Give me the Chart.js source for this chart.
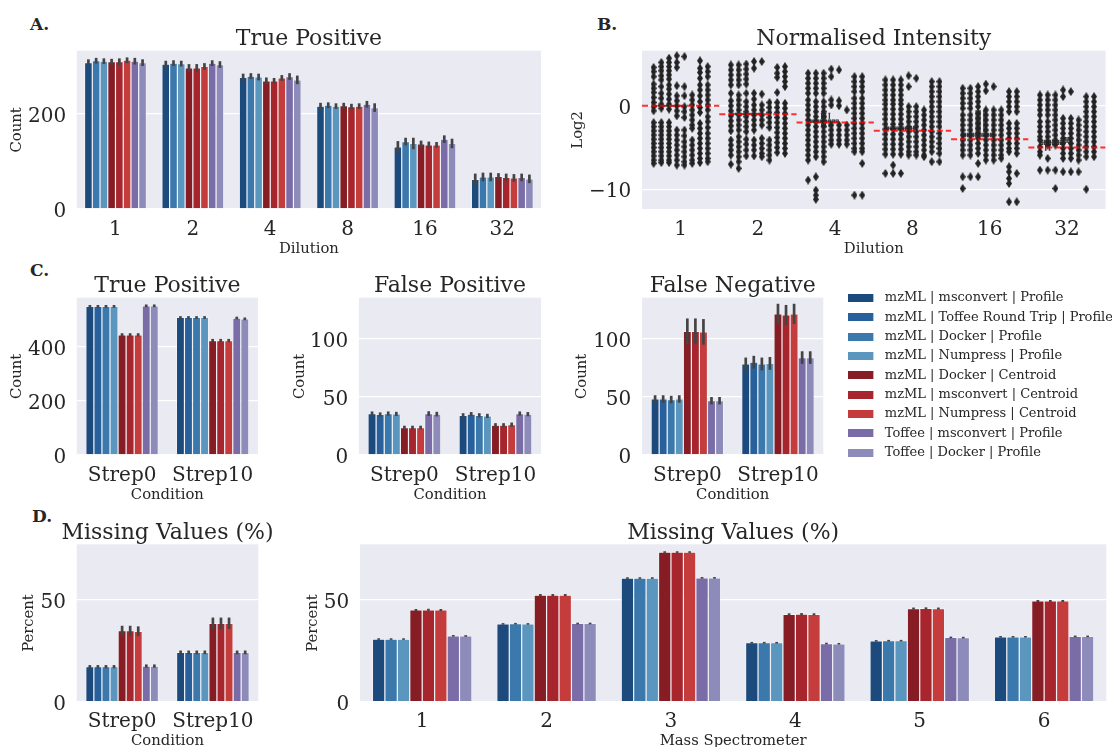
<!DOCTYPE html>
<html><head><meta charset="utf-8">
<script src="https://cdn.jsdelivr.net/npm/chart.js@4.4.1/dist/chart.umd.min.js"></script>
<style>
html,body{margin:0;padding:0;background:#fff;overflow:hidden;width:1112px;height:747px;position:relative;}
canvas{position:absolute;}
.lbl{position:absolute;font:bold 17px 'DejaVu Serif',serif;line-height:16px;color:#262626;white-space:nowrap;}
</style></head><body>
<div class="lbl" style="left:30px;top:16px">A.</div>
<div class="lbl" style="left:597px;top:16px">B.</div>
<div class="lbl" style="left:30px;top:262px">C.</div>
<div class="lbl" style="left:32px;top:508px">D.</div>
<canvas id="cA"></canvas><canvas id="cB"></canvas>
<canvas id="cTP"></canvas><canvas id="cFP"></canvas><canvas id="cFN"></canvas>
<canvas id="cDL"></canvas><canvas id="cDR"></canvas><canvas id="cLeg"></canvas>
<script>
// ---------------- DATA ----------------
const methods = [
  "mzML | msconvert | Profile", "mzML | Toffee Round Trip | Profile", "mzML | Docker | Profile",
  "mzML | Numpress | Profile", "mzML | Docker | Centroid", "mzML | msconvert | Centroid",
  "mzML | Numpress | Centroid", "Toffee | msconvert | Profile", "Toffee | Docker | Profile"
];
const dilutionMethods = [0, 2, 3, 4, 5, 6, 7, 8];   // methods present in dilution / mass-spec panels
const dilutionLabels = ["1", "2", "4", "8", "16", "32"];
const conditionLabels = ["Strep0", "Strep10"];
const massSpecLabels = ["1", "2", "3", "4", "5", "6"];

// y tick values per panel
const ticksTPDilution = [0, 200];
const ticksLog2 = [-10, 0];
const ticksTPCondition = [0, 200, 400];
const ticksFPFN = [0, 50, 100];
const ticksPercent = [0, 50];

// A. True positive by dilution (rows follow dilutionMethods)
const tpDilution = [
  [306, 303, 275, 215, 130, 62],
  [310, 305, 278, 217, 141, 67],
  [309, 304, 276, 215, 137, 67],
  [308, 295, 268, 216, 136, 68],
  [308, 295, 268, 214, 134, 66],
  [311, 298, 274, 215, 134, 65],
  [309, 305, 277, 219, 146, 66],
  [306, 302, 270, 212, 137, 63]
];
const tpDilutionErr = [
  [7, 7, 8, 7, 12, 12],
  [6, 6, 6, 6, 8, 9],
  [6, 6, 7, 6, 12, 9],
  [6, 8, 7, 6, 7, 7],
  [7, 8, 6, 6, 7, 8],
  [6, 7, 6, 6, 6, 8],
  [7, 6, 7, 7, 8, 8],
  [7, 7, 9, 9, 10, 9]
];

// B. Normalised intensity (log2) box plots by dilution (rows follow dilutionMethods)
const expectedLog2 = [0, -1, -2, -3, -4, -5];
const boxQ1 = [
  [-0.1, -1.15, -2.1, -2.95, -3.8, -4.7], [-0.1, -1.15, -2.1, -2.95, -3.8, -4.7],
  [-0.1, -1.15, -2.1, -2.95, -3.8, -4.7], [-0.1, -1.15, -2.1, -2.95, -3.8, -4.7],
  [-0.1, -1.15, -2.1, -2.95, -3.8, -4.7], [-0.1, -1.15, -2.1, -2.95, -3.8, -4.7],
  [-0.1, -1.15, -2.1, -2.95, -3.8, -4.45], [-0.1, -1.15, -2.1, -2.95, -3.8, -4.45]
];
const boxQ3 = [
  [0.1, -0.8, -1.6, -2.45, -3.2, -4.05], [0.1, -0.8, -1.6, -2.45, -3.2, -4.05],
  [0.1, -0.8, -1.6, -2.45, -3.2, -4.05], [0.1, -0.8, -1.6, -2.45, -3.2, -4.05],
  [0.1, -0.8, -1.6, -2.45, -3.2, -4.05], [0.1, -0.8, -1.6, -2.45, -3.2, -4.05],
  [0.1, -0.8, -1.6, -2.45, -3.2, -3.75], [0.1, -0.8, -1.6, -2.45, -3.2, -3.75]
];
const boxMedian = [
  [0, -1.0, -1.85, -2.7, -3.5, -4.4], [0, -1.0, -1.85, -2.7, -3.5, -4.4],
  [0, -1.0, -1.85, -2.7, -3.5, -4.4], [0, -1.0, -1.85, -2.7, -3.5, -4.4],
  [0, -1.0, -1.85, -2.7, -3.5, -4.4], [0, -1.0, -1.85, -2.7, -3.5, -4.4],
  [0, -1.0, -1.85, -2.7, -3.5, -4.1], [0, -1.0, -1.85, -2.7, -3.5, -4.1]
];
const whiskerLow = [
  [-0.1, -1.15, -2.1, -2.95, -3.8, -4.7], [-0.1, -1.15, -2.1, -2.95, -3.8, -5.3],
  [-0.1, -1.15, -2.1, -2.95, -3.8, -5.3], [-0.1, -1.15, -2.5, -2.95, -3.8, -4.7],
  [-0.1, -1.15, -2.5, -2.95, -3.8, -4.7], [-0.1, -1.15, -2.5, -2.95, -3.8, -4.7],
  [-0.1, -1.15, -2.1, -2.95, -3.8, -4.45], [-0.1, -1.15, -2.1, -2.95, -3.8, -4.45]
];
const whiskerHigh = [
  [0.1, -0.8, -1.6, -2.45, -3.2, -4.05], [0.1, -0.8, -1.6, -2.45, -3.2, -4.05],
  [0.1, -0.8, -1.6, -2.45, -3.2, -4.05], [0.1, -0.8, -0.9, -2.45, -0.6, -4.05],
  [0.1, -0.8, -0.9, -2.45, -0.6, -4.05], [0.1, -0.8, -0.9, -2.45, -0.6, -4.05],
  [0.1, -0.8, -1.6, -2.45, -3.2, -3.75], [0.1, -0.8, -1.6, -2.45, -3.2, -3.75]
];
// outlier points (log2) for each dilution, one list per method
const flierD1 = [
  [4.6, 4.1, 3.5, 2.6, 2.1, 1.6, 1.0, 0.4, -0.1, -0.6, -2.0, -2.5, -3.0, -3.5, -4.0, -4.5, -5.0, -5.5, -6.0, -6.5, -6.9],
  [5.2, 4.7, 4.2, 3.6, 3.1, 2.3, 1.5, 0.9, 0.2, -0.3, -2.0, -2.5, -3.0, -3.5, -4.0, -4.5, -5.0, -5.5, -6.0, -6.5, -6.8],
  [5.7, 5.2, 4.7, 4.2, 3.7, 3.2, 2.5, 2.0, 1.4, 0.8, 0.2, -0.4, -2.0, -2.5, -3.0, -3.5, -4.0, -4.5, -5.0, -5.5, -6.0, -6.5, -6.8],
  [6.0, 5.2, 4.6, 2.4, 1.2, 0.6, 0.0, -0.6, -1.2, -2.9, -3.5, -4.1, -4.7, -5.3, -5.9, -6.5, -7.1],
  [5.9, 2.3, 1.2, -0.1, -0.7, -1.4, -2.9, -3.6, -4.3, -4.9, -5.5, -6.1, -6.7, -7.1],
  [1.3, 0.7, 0.1, -0.5, -1.1, -1.7, -2.3, -2.7, -4.1, -4.7, -5.3, -5.9, -6.5, -6.9],
  [5.4, 4.5, 4.0, 3.3, 2.5, 1.9, 1.2, 0.5, -0.2, -0.8, -2.1, -2.7, -3.3, -3.9, -4.5, -5.1, -5.7, -6.3, -6.8],
  [4.7, 4.1, 3.5, 2.5, 1.9, 1.3, 0.7, 0.1, -0.5, -1.3, -1.9, -2.6, -3.3, -3.9, -4.5, -5.1, -5.7, -6.3, -6.7]
];
const flierD2 = [
  [4.9, 4.3, 3.7, 3.1, 2.5, 1.5, 0.6, 0.0, -0.6, -1.2, -1.8, -2.4, -3.0, -4.1, -4.7, -5.3, -5.9, -7.0],
  [4.9, 4.3, 3.7, 3.1, 2.5, 1.3, 0.7, 0.1, -0.5, -1.1, -1.7, -2.3, -2.9, -3.7, -4.3, -4.9, -5.5, -6.1, -6.7, -7.5],
  [5.0, 4.4, 3.8, 3.2, 2.6, 1.5, 0.5, -0.1, -0.7, -1.3, -1.9, -2.5, -3.1, -4.0, -4.6, -5.3, -6.0],
  [5.3, 4.5, 1.5, 0.8, 0.1, -0.5, -1.1, -1.7, -2.3, -2.9, -4.1, -4.7, -5.3, -6.0],
  [5.3, 1.4, 0.1, -0.5, -1.1, -1.7, -2.3, -3.9, -4.5, -5.1, -5.7, -6.1],
  [0.4, -0.2, -0.8, -1.4, -2.0, -2.6, -4.1, -4.7, -5.3, -5.9, -6.5],
  [4.6, 3.9, 3.4, 1.6, 0.4, -0.2, -0.8, -1.4, -2.0, -2.6, -3.2, -3.8, -4.4, -5.0, -5.6],
  [4.7, 4.1, 3.5, 2.9, 2.3, 0.3, -0.3, -0.9, -1.5, -2.1, -2.7, -3.3, -3.9, -4.5, -5.1, -5.7]
];
const flierD4 = [
  [3.9, 3.3, 2.7, 2.1, 1.5, 0.7, 0.1, -0.5, -1.1, -1.7, -2.3, -2.9, -3.5, -4.1, -4.7, -5.3, -5.9, -6.5, -8.9],
  [3.9, 3.3, 2.7, 2.1, 1.5, 0.5, -0.1, -0.7, -1.3, -1.9, -2.5, -3.1, -3.7, -4.3, -4.9, -5.5, -6.1, -8.5, -10.1, -10.7, -11.2],
  [3.9, 3.3, 2.7, 2.1, 1.5, 0.5, -0.1, -0.7, -1.3, -1.9, -2.5, -3.1, -3.7, -4.3, -4.9, -5.5, -6.1, -6.7],
  [4.4, 3.5, 0.7, 0.1, -2.3, -2.9, -3.5, -4.1, -4.6],
  [4.3, 0.6, 0.0, -2.3, -2.9, -3.5, -4.1, -4.6],
  [-0.5, -2.3, -2.9, -3.5, -4.1, -4.6],
  [3.5, 2.9, 2.3, 1.7, 0.9, 0.3, -0.3, -0.9, -1.5, -2.1, -2.7, -3.3, -3.9, -4.5, -5.1, -5.5, -10.7],
  [3.5, 2.9, 2.3, 1.7, 0.9, 0.3, -0.3, -0.9, -1.5, -2.1, -2.7, -3.3, -3.9, -4.5, -5.1, -5.5, -6.9, -10.7]
];
const flierD8 = [
  [3.1, 2.5, 1.9, 1.3, 0.7, 0.2, -0.4, -1.0, -1.6, -2.2, -2.8, -3.4, -4.0, -4.6, -5.2, -5.8, -8.1],
  [3.1, 2.5, 1.9, 1.3, 0.7, 0.2, -0.4, -1.0, -1.6, -2.2, -2.8, -3.4, -4.0, -4.6, -5.2, -5.8, -7.1, -8.1],
  [3.1, 2.5, 1.9, 1.3, 0.7, 0.2, -0.4, -1.0, -1.6, -2.2, -2.8, -3.4, -4.0, -4.6, -5.2, -5.8, -8.1],
  [3.6, 2.3, -0.1, -0.7, -1.3, -1.9, -2.5, -3.1, -3.7, -4.3, -4.9, -5.5, -5.9],
  [3.3, -0.1, -0.7, -1.3, -1.9, -2.5, -3.1, -3.7, -4.3, -4.9, -5.5, -5.9],
  [-0.5, -1.1, -1.7, -2.3, -2.9, -3.5, -4.1, -4.7, -5.3, -5.9, -6.1],
  [2.9, 2.3, 1.7, 1.1, 0.5, -0.1, -0.7, -1.3, -1.9, -2.5, -3.1, -3.7, -4.3, -4.9, -5.5, -6.7],
  [2.9, 2.3, 1.7, 1.1, 0.5, -0.1, -0.7, -1.3, -1.9, -2.5, -3.3, -3.9, -4.5, -5.1, -5.7, -6.7]
];
const flierD16 = [
  [2.1, 1.5, 0.9, 0.3, -0.3, -1.1, -1.7, -2.3, -2.9, -3.5, -4.1, -4.7, -5.3, -5.9, -8.5, -9.9],
  [2.1, 1.5, 0.9, 0.3, -0.3, -1.1, -1.7, -2.3, -2.9, -3.5, -4.1, -4.7, -5.3, -5.9, -8.5],
  [2.3, 1.7, 1.1, 0.5, -0.1, -0.9, -1.5, -2.1, -2.7, -3.3, -3.9, -4.5, -5.1, -5.7, -6.9, -8.5],
  [2.6, 1.8, -0.5, -1.1, -1.7, -2.3, -2.9, -3.5, -4.1, -4.7, -5.3, -5.9, -6.5],
  [2.3, -0.5, -1.1, -1.7, -2.3, -2.9, -3.5, -4.1, -4.7, -5.3, -5.9, -6.5],
  [-0.5, -1.1, -1.7, -2.3, -2.9, -3.5, -4.1, -4.7, -5.3, -5.9, -6.3],
  [1.7, 1.1, 0.5, -0.1, -0.7, -2.1, -2.7, -3.3, -3.9, -4.5, -5.1, -5.5, -7.3, -7.9, -8.7, -9.3, -11.5],
  [1.7, 1.1, 0.5, -0.1, -0.7, -2.1, -2.7, -3.3, -3.9, -4.5, -5.1, -5.7, -8.1, -11.5]
];
const flierD32 = [
  [1.3, 0.7, 0.1, -0.5, -1.1, -1.9, -2.5, -3.1, -3.7, -4.1, -4.9, -5.5, -5.9, -7.7],
  [1.3, 0.7, 0.1, -0.5, -1.1, -1.9, -2.5, -3.1, -3.7, -4.3, -4.7, -6.3, -7.7],
  [1.3, 0.7, 0.1, -0.5, -1.1, -1.7, -2.3, -2.9, -3.5, -4.1, -4.7, -7.7, -9.9],
  [1.9, 1.1, -1.5, -2.1, -2.7, -3.3, -3.9, -4.5, -5.1, -5.7, -6.3, -7.9],
  [1.7, -1.5, -2.1, -2.7, -3.3, -3.9, -4.5, -5.1, -5.7, -6.3, -7.9],
  [-1.7, -2.3, -2.9, -3.5, -4.1, -4.7, -5.3, -5.9, -6.5, -7.9],
  [1.1, 0.5, -0.1, -0.7, -1.3, -1.9, -2.5, -3.1, -3.7, -4.3, -4.9, -5.5, -6.1, -10.0],
  [1.1, 0.5, -0.1, -0.7, -1.3, -1.9, -2.5, -3.1, -3.7, -4.3, -4.9, -5.5, -6.1]
];

// C. Counts by condition (rows follow methods)
const tpCondition = [[548, 507], [548, 507], [548, 507], [548, 507], [443, 422], [443, 422], [443, 422], [550, 505], [550, 502]];
const tpConditionErr = [[5, 5], [5, 5], [5, 5], [5, 5], [6, 6], [6, 6], [6, 6], [5, 5], [5, 5]];
const fpCondition = [[35.5, 34], [34.7, 35], [35.5, 34], [35.2, 33.5], [23.5, 25.5], [23.5, 25.5], [23.5, 26], [35.5, 35.5], [35, 35]];
const fpConditionErr = [[1.8, 1.8], [1.8, 1.8], [1.8, 1.8], [1.8, 1.8], [1.6, 1.8], [1.6, 1.8], [1.6, 1.8], [2, 1.8], [2, 1.8]];
const fnCondition = [[48, 78], [48, 79.5], [47.5, 78], [48, 78.5], [106, 121], [106, 120], [105.5, 121], [46.5, 83.5], [46.5, 83.5]];
const fnConditionErr = [[3.2, 5.5], [3.2, 5.5], [3.2, 5.5], [3.2, 5.5], [11, 8.6], [11, 8.6], [11, 8.6], [3.2, 5.4], [3.2, 5.4]];

// D. Missing values (%)
const mvCondition = [[17.1, 24.1], [17.1, 24.1], [17.1, 24.1], [17.1, 24.1], [34.7, 38.3], [34.7, 38.3], [34.4, 38.3], [17.4, 24.1], [17.4, 24.1]];
const mvConditionErr = [[0.8, 0.9], [0.8, 0.9], [0.8, 0.9], [0.8, 0.9], [2.4, 2.8], [2.4, 2.8], [2.4, 2.8], [0.8, 0.9], [0.8, 0.9]];
const mvMassSpec = [
  [30.6, 38.0, 60.4, 28.8, 29.7, 31.7],
  [30.6, 38.1, 60.4, 28.8, 29.8, 31.7],
  [30.6, 38.0, 60.4, 28.8, 29.8, 31.7],
  [44.8, 52.1, 73.1, 42.7, 45.5, 49.2],
  [44.9, 52.1, 73.1, 42.8, 45.6, 49.2],
  [44.8, 52.1, 73.1, 42.7, 45.5, 49.2],
  [32.2, 38.2, 60.5, 28.4, 31.4, 31.9],
  [32.1, 38.2, 60.5, 28.3, 31.3, 31.9]
];
const mvMassSpecErr = [
  [0.4, 0.4, 0.4, 0.4, 0.4, 0.4], [0.4, 0.4, 0.4, 0.4, 0.4, 0.4], [0.4, 0.4, 0.4, 0.4, 0.4, 0.4],
  [0.5, 0.5, 0.4, 0.5, 0.5, 0.5], [0.5, 0.5, 0.4, 0.5, 0.5, 0.5], [0.5, 0.5, 0.4, 0.5, 0.5, 0.5],
  [0.4, 0.4, 0.4, 0.4, 0.4, 0.4], [0.4, 0.4, 0.4, 0.4, 0.4, 0.4]
];

// ---------------- STYLE ----------------
const methodColors = ["#1d4a7d", "#27609a", "#3b79ac", "#5b96be", "#861d24", "#a7262d", "#c43c3b", "#7a6ca6", "#8c8bba"];
const TITLE_SIZE = 22, TICK_SIZE = 20, LABEL_SIZE = 14.8, LEGEND_SIZE = 13;
const TH = 32;
const XH = 48.8;
const TXT = '#262626';
const FONT = "'DejaVu Serif', serif";
Chart.defaults.font.family = FONT;
Chart.defaults.color = TXT;

const bgPlugin = {
  id: 'bgArea',
  beforeDraw(chart) {
    const a = chart.chartArea, c = chart.ctx;
    c.save(); c.fillStyle = '#EAEAF2';
    c.fillRect(a.left, a.top, a.right - a.left, a.bottom - a.top); c.restore();
  }
};
const titlePlugin = {
  id: 'plotTitle',
  afterDraw(chart, args, opts) {
    if (!opts || !opts.text) return;
    const c = chart.ctx, a = chart.chartArea;
    c.save(); c.font = 'normal ' + TITLE_SIZE + 'px ' + FONT; c.fillStyle = TXT;
    c.textAlign = 'center'; c.textBaseline = 'alphabetic';
    c.fillText(opts.text, (a.left + a.right) / 2, a.top - 5.8);
    c.restore();
  }
};
const errPlugin = {
  id: 'errBars',
  afterDatasetsDraw(chart) {
    const ctx = chart.ctx, ys = chart.scales.y;
    chart.data.datasets.forEach((ds, i) => {
      if (!ds.err) return;
      const meta = chart.getDatasetMeta(i);
      ctx.save(); ctx.strokeStyle = '#444444'; ctx.lineWidth = 2.7; ctx.lineCap = 'butt';
      meta.data.forEach((el, j) => {
        const v = ds.data[j], e = ds.err[j];
        ctx.beginPath();
        ctx.moveTo(el.x, ys.getPixelForValue(v - e));
        ctx.lineTo(el.x, ys.getPixelForValue(v + e));
        ctx.stroke();
      });
      ctx.restore();
    });
  }
};
const boxPlugin = {
  id: 'boxParts',
  afterDatasetDraw(chart, args) {
    const ds = chart.data.datasets[args.index];
    if (!ds.boxMed) return;
    const ctx = chart.ctx, ys = chart.scales.y;
    ctx.save(); ctx.strokeStyle = '#3d3d3d'; ctx.lineWidth = 1.3;
    args.meta.data.forEach((el, j) => {
      const hw = el.width / 2;
      const q1 = ds.data[j][0], q3 = ds.data[j][1];
      ctx.beginPath();
      ctx.moveTo(el.x - hw, ys.getPixelForValue(ds.boxMed[j]));
      ctx.lineTo(el.x + hw, ys.getPixelForValue(ds.boxMed[j]));
      if (ds.wHi[j] > q3) {
        ctx.moveTo(el.x, ys.getPixelForValue(q3)); ctx.lineTo(el.x, ys.getPixelForValue(ds.wHi[j]));
        ctx.moveTo(el.x - hw / 2, ys.getPixelForValue(ds.wHi[j])); ctx.lineTo(el.x + hw / 2, ys.getPixelForValue(ds.wHi[j]));
      }
      if (ds.wLo[j] < q1) {
        ctx.moveTo(el.x, ys.getPixelForValue(q1)); ctx.lineTo(el.x, ys.getPixelForValue(ds.wLo[j]));
        ctx.moveTo(el.x - hw / 2, ys.getPixelForValue(ds.wLo[j])); ctx.lineTo(el.x + hw / 2, ys.getPixelForValue(ds.wLo[j]));
      }
      ctx.stroke();
    });
    ctx.restore();
  }
};

function fmtTick(v) { return v < 0 ? '\u2212' + Math.abs(v) : String(v); }

function buildChart(o) {
  const cv = document.getElementById(o.id);
  const x0 = o.rect.l - o.yw, y0 = o.rect.t - TH;
  const L = Math.floor(x0), T = Math.floor(y0);
  const R = Math.ceil(o.rect.r + 25), B = Math.ceil(o.rect.b + XH);
  cv.width = R - L; cv.height = B - T;
  cv.style.left = L + 'px'; cv.style.top = T + 'px';
  cv.style.width = (R - L) + 'px'; cv.style.height = (B - T) + 'px';
  const pad = { left: x0 - L, top: o.rect.t - T, right: R - o.rect.r, bottom: B - (o.rect.b + XH) };
  const scales = Object.assign({
    x: {
      type: 'category', offset: true, grid: { display: false }, border: { display: false },
      ticks: { font: { size: TICK_SIZE }, padding: 0.3, color: TXT, maxRotation: 0, autoSkip: false },
      title: { display: true, text: o.xTitle, font: { size: LABEL_SIZE }, padding: { top: 0, bottom: 0 }, color: TXT },
      afterFit: s => { s.height = XH; }
    },
    y: {
      type: 'linear', min: o.y.min, max: o.y.max,
      grid: { color: '#ffffff', lineWidth: 1.3, drawTicks: false }, border: { display: false },
      ticks: { autoSkip: false, labelOffset: 3,
               font: { size: TICK_SIZE }, padding: 10.7, color: TXT, callback: v => fmtTick(v) },
      afterBuildTicks: s => { s.ticks = o.y.ticks.map(v => ({ value: v })); },
      title: { display: true, text: o.yTitle, font: { size: LABEL_SIZE }, padding: { top: 0, bottom: 0 }, color: TXT },
      afterFit: s => { s.width = o.yw; }
    }
  }, o.extraScales || {});
  return new Chart(cv, {
    type: 'bar',
    data: { labels: o.labels, datasets: o.datasets },
    options: {
      responsive: false, animation: false, devicePixelRatio: 1,
      layout: { padding: pad },
      plugins: {
        legend: { display: false }, tooltip: { enabled: false }, title: { display: false },
        plotTitle: { text: o.title }
      },
      datasets: { bar: { categoryPercentage: 0.8, barPercentage: 1 } },
      scales
    },
    plugins: [bgPlugin, errPlugin, boxPlugin, titlePlugin]
  });
}

function barSets(methodIdx, values, errs) {
  return methodIdx.map((m, k) => ({
    label: methods[m], data: values[k], err: errs[k],
    backgroundColor: methodColors[m], borderColor: '#ffffff', borderWidth: 0.6
  }));
}
const allMethods = methods.map((_, i) => i);

// A
buildChart({ id: 'cA', rect: { l: 76.8, t: 50.7, r: 541, b: 209 }, yw: 68.7,
  title: 'True Positive', xTitle: 'Dilution', yTitle: 'Count', labels: dilutionLabels,
  y: { min: 0, max: 331, ticks: ticksTPDilution }, datasets: barSets(dilutionMethods, tpDilution, tpDilutionErr) });

// B
(function () {
  const dia = document.createElement('canvas'); dia.width = 6; dia.height = 9;
  const g = dia.getContext('2d'); g.fillStyle = '#232323';
  g.beginPath(); g.moveTo(3, 0); g.lineTo(6, 4.5); g.lineTo(3, 9); g.lineTo(0, 4.5); g.closePath(); g.fill();
  const flierSets = [flierD1, flierD2, flierD4, flierD8, flierD16, flierD32];
  const n = dilutionMethods.length;
  const lineData = [];
  expectedLog2.forEach((v, gi) => { lineData.push({ x: gi - 0.5, y: v }, { x: gi + 0.5, y: v }, { x: gi + 0.5, y: null }); });
  const ds = [{
    type: 'line', xAxisID: 'xs', data: lineData, borderColor: 'rgba(255,0,0,0.8)', borderWidth: 2,
    borderDash: [6, 3], pointRadius: 0, spanGaps: false, fill: false
  }];
  dilutionMethods.forEach((m, k) => {
    const pts = [];
    flierSets.forEach((set, gi) => set[k].forEach(v => pts.push({ x: gi - 0.4 + 0.8 / n * (k + 0.5), y: v })));
    ds.push({ type: 'scatter', xAxisID: 'xs', data: pts, pointStyle: dia, pointRadius: 3, showLine: false });
  });
  dilutionMethods.forEach((m, k) => {
    ds.push({
      type: 'bar', label: methods[m], data: boxQ1[k].map((q, gi) => [q, boxQ3[k][gi]]),
      boxMed: boxMedian[k], wLo: whiskerLow[k], wHi: whiskerHigh[k],
      backgroundColor: methodColors[m], borderColor: '#3d3d3d', borderWidth: 1.2, borderSkipped: false,
      categoryPercentage: 0.8, barPercentage: 0.92
    });
  });
  buildChart({ id: 'cB', rect: { l: 642, t: 50.7, r: 1105.6, b: 209 }, yw: 72.9,
    title: 'Normalised Intensity', xTitle: 'Dilution', yTitle: 'Log2', labels: dilutionLabels,
    y: { min: -12.36, max: 6.6, ticks: ticksLog2 }, datasets: ds,
    extraScales: { xs: { type: 'linear', axis: 'x', position: 'bottom', min: -0.5, max: 5.5, offset: false,
                         grid: { offset: false }, display: false } } });
})();

// C
buildChart({ id: 'cTP', rect: { l: 76.8, t: 297.7, r: 257.9, b: 455 }, yw: 68.7,
  title: 'True Positive', xTitle: 'Condition', yTitle: 'Count', labels: conditionLabels,
  y: { min: 0, max: 580, ticks: ticksTPCondition }, datasets: barSets(allMethods, tpCondition, tpConditionErr) });
buildChart({ id: 'cFP', rect: { l: 358.9, t: 297.7, r: 541, b: 455 }, yw: 67.8,
  title: 'False Positive', xTitle: 'Condition', yTitle: 'Count', labels: conditionLabels,
  y: { min: 0, max: 134.8, ticks: ticksFPFN }, datasets: barSets(allMethods, fpCondition, fpConditionErr) });
buildChart({ id: 'cFN', rect: { l: 642, t: 297.7, r: 823.3, b: 455 }, yw: 68.9,
  title: 'False Negative', xTitle: 'Condition', yTitle: 'Count', labels: conditionLabels,
  y: { min: 0, max: 134.8, ticks: ticksFPFN }, datasets: barSets(allMethods, fnCondition, fnConditionErr) });

// D
buildChart({ id: 'cDL', rect: { l: 76.7, t: 544.3, r: 258.3, b: 701.7 }, yw: 56.4,
  title: 'Missing Values (%)', xTitle: 'Condition', yTitle: 'Percent', labels: conditionLabels,
  y: { min: 0, max: 76.9, ticks: ticksPercent }, datasets: barSets(allMethods, mvCondition, mvConditionErr) });
buildChart({ id: 'cDR', rect: { l: 360, t: 544.3, r: 1106.3, b: 701.7 }, yw: 55.5,
  title: 'Missing Values (%)', xTitle: 'Mass Spectrometer', yTitle: 'Percent', labels: massSpecLabels,
  y: { min: 0, max: 76.9, ticks: ticksPercent }, datasets: barSets(dilutionMethods, mvMassSpec, mvMassSpecErr) });

// Legend
(function () {
  const cv = document.getElementById('cLeg');
  cv.width = 280; cv.height = 440;
  cv.style.left = '842px'; cv.style.top = '285px'; cv.style.width = '280px'; cv.style.height = '440px';
  const sw = methodColors.map(c => {
    const s = document.createElement('canvas'); s.width = 30; s.height = 8;
    const g = s.getContext('2d'); g.fillStyle = c; g.fillRect(0, 0, 25, 8); return s;
  });
  new Chart(cv, {
    type: 'bar',
    data: { labels: [], datasets: methods.map((m, i) => ({ label: m, data: [], backgroundColor: methodColors[i] })) },
    options: {
      responsive: false, animation: false, devicePixelRatio: 1,
      layout: { padding: { top: 0.2, left: 0, right: 0, bottom: 0 } },
      scales: { x: { display: false }, y: { display: false } },
      plugins: {
        tooltip: { enabled: false }, title: { display: false },
        legend: {
          display: true, position: 'top', align: 'start', maxHeight: 400,
          labels: {
            usePointStyle: true, pointStyleWidth: 30, boxHeight: 8, padding: 6.33,
            font: { size: LEGEND_SIZE }, color: TXT,
            generateLabels: chart => chart.data.datasets.map((d, i) => ({
              text: d.label, fillStyle: d.backgroundColor, strokeStyle: d.backgroundColor,
              lineWidth: 0, pointStyle: sw[i], hidden: false, datasetIndex: i, fontColor: TXT
            }))
          }
        }
      }
    }
  });
})();
</script>
</body></html>
